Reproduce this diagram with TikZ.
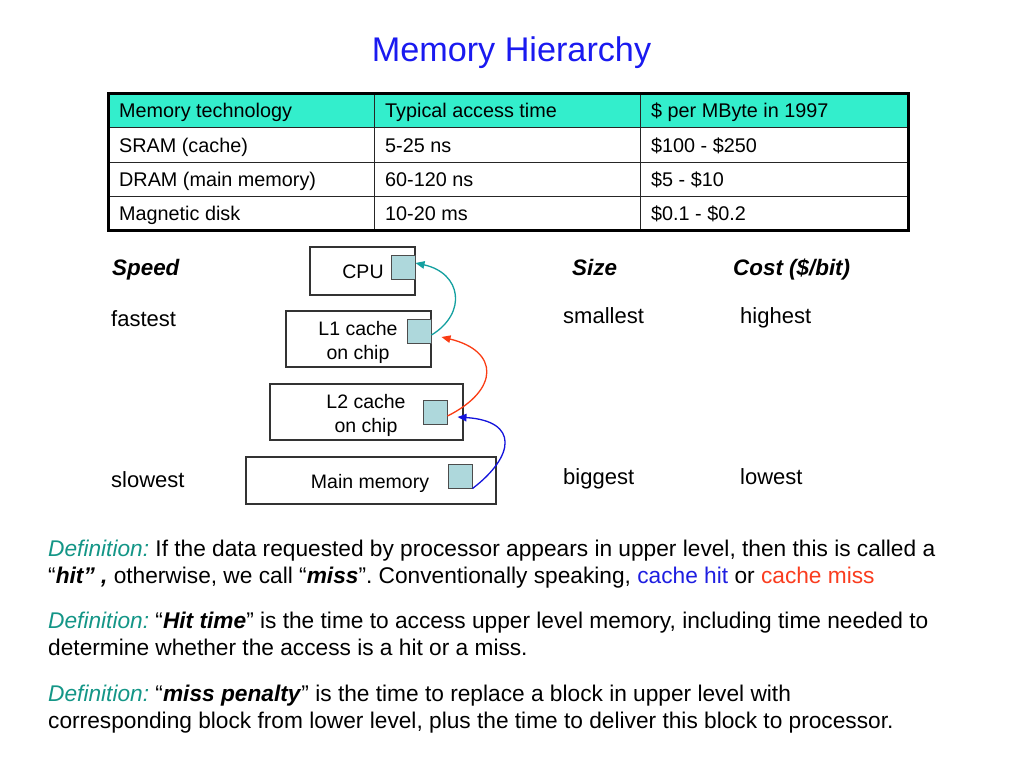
\documentclass[tikz,border=0pt]{standalone}
\usepackage{fontspec}
\setmainfont{Liberation Sans}
\usetikzlibrary{arrows.meta}
\frenchspacing
\definecolor{ttlblue}{RGB}{26,26,240}
\definecolor{hdrfill}{RGB}{51,238,204}
\definecolor{sqfill}{RGB}{174,216,220}
\definecolor{defteal}{RGB}{20,150,135}
\definecolor{arrteal}{RGB}{20,160,160}
\definecolor{arrred}{RGB}{250,60,20}
\definecolor{arrblue}{RGB}{20,20,220}
\definecolor{hitblue}{RGB}{30,30,225}
\definecolor{missred}{RGB}{250,60,30}
\begin{document}
\begin{tikzpicture}[x=1pt,y=-1pt,
  tabtxt/.style={inner sep=0pt, anchor=base west, font=\fontsize{19.8}{24}\selectfont},
  lbl/.style={inner sep=0pt, anchor=base west, font=\fontsize{22}{26}\selectfont},
  hlbl/.style={inner sep=0pt, anchor=base west, font=\fontsize{22.4}{26}\selectfont\bfseries\itshape},
  boxtxt/.style={inner sep=0pt, anchor=base, font=\fontsize{19.5}{24}\selectfont},
  deftxt/.style={inner sep=0pt, anchor=base west, font=\fontsize{22.7}{26}\selectfont},
  membox/.style={draw=black!80, line width=1.1pt, fill=white, inner sep=0pt},
  sqbox/.style={draw=black!70, line width=1pt, fill=sqfill, minimum width=24pt, minimum height=24pt, inner sep=0pt},
  conn/.style={line width=1.3pt, -{Triangle[length=9pt,width=7.5pt]}},
  thinrule/.style={line width=1pt, draw=black!85},
]
\useasboundingbox (0,0) rectangle (1024,768);
\fill[white] (0,0) rectangle (1024,768);

% Title
\node[inner sep=0pt, anchor=base, font=\fontsize{34.2}{38}\selectfont, text=ttlblue] (title) at (511.5,62) {Memory Hierarchy};

% Table
\fill[hdrfill] (108,93) rectangle (908,127);
\draw[thinrule] (108,127) -- (908,127);
\draw[thinrule] (108,162) -- (908,162);
\draw[thinrule] (108,196) -- (908,196);
\draw[thinrule] (374,93) -- (374,230);
\draw[thinrule] (640,93) -- (640,230);
\draw[line width=3pt, black] (108,93) rectangle (908,230);

\node[tabtxt] (h1) at (119,117) {Memory technology};
\node[tabtxt] (h2) at (385,117) {Typical access time};
\node[tabtxt] (h3) at (651,117) {\$ per MByte in 1997};
\node[tabtxt] (r11) at (119,152) {SRAM (cache)};
\node[tabtxt] (r12) at (385,152) {5-25 ns};
\node[tabtxt] (r13) at (651,152) {\$100 - \$250};
\node[tabtxt] (r21) at (119,186) {DRAM (main memory)};
\node[tabtxt] (r22) at (385,186) {60-120 ns};
\node[tabtxt] (r23) at (651,186) {\$5 - \$10};
\node[tabtxt] (r31) at (119,220) {Magnetic disk};
\node[tabtxt] (r32) at (385,220) {10-20 ms};
\node[tabtxt] (r33) at (651,220) {\$0.1 - \$0.2};

% Column headings
\node[hlbl] (speed) at (112,275) {Speed};
\node[hlbl] (size) at (572,275) {Size};
\node[hlbl] (cost) at (733,275) {Cost (\$/bit)};
\node[lbl] (fastest) at (111,326) {fastest};
\node[lbl] (smallest) at (563,323) {smallest};
\node[lbl] (highest) at (740,323) {highest};
\node[lbl] (slowest) at (111,487) {slowest};
\node[lbl] (biggest) at (563,484) {biggest};
\node[lbl] (lowest) at (740,484) {lowest};

% Memory boxes
\node[membox, minimum width=105pt, minimum height=48pt] (cpu) at (362.5,271) {};
\node[membox, minimum width=145pt, minimum height=56pt] (l1) at (358.5,339) {};
\node[membox, minimum width=193pt, minimum height=56pt] (l2) at (366.5,412) {};
\node[membox, minimum width=250pt, minimum height=47pt] (mm) at (371,480.5) {};

\node[boxtxt] (cputxt) at (363,278) {CPU};
\node[boxtxt] (l1txta) at (358,335) {L1 cache};
\node[boxtxt] (l1txtb) at (358,359) {on chip};
\node[boxtxt] (l2txta) at (366,408) {L2 cache};
\node[boxtxt] (l2txtb) at (366,432) {on chip};
\node[boxtxt] (mmtxt) at (370,488) {Main memory};

\node[sqbox] (cpusq) at (403,267) {};
\node[sqbox] (l1sq) at (419,331) {};
\node[sqbox] (l2sq) at (435,412) {};
\node[sqbox] (mmsq) at (460,476) {};

\coordinate (redend) at ([xshift=10pt,yshift=-6pt]l1sq.east);
\coordinate (blueend) at ([xshift=10pt,yshift=-5pt]l2sq.east);

\draw[conn, arrteal] ([yshift=-4pt]l1sq.east) .. controls +(36,-22) and +(46,10) .. ([yshift=4pt]cpusq.east);
\draw[conn, arrred] ([yshift=-4pt]l2sq.east) .. controls +(52,-26) and +(58,14) .. (redend);
\draw[conn, arrblue] (mmsq.south east) .. controls +(42,-32) and +(62,4) .. (blueend);

% Definitions
\node[deftxt] (d1a) at (48,556) {\textcolor{defteal}{\itshape Definition:} If the data requested by processor appears in upper level, then this is called a};
\node[deftxt] (d1b) at (48,583) {“\textbf{\textit{hit” ,}} otherwise, we call “\textbf{\textit{miss}}”. Conventionally speaking, \textcolor{hitblue}{cache hit} or \textcolor{missred}{cache miss}};
\node[deftxt] (d2a) at (48,628) {\textcolor{defteal}{\itshape Definition:} “\textbf{\textit{Hit time}}” is the time to access upper level memory, including time needed to};
\node[deftxt] (d2b) at (48,655) {determine whether the access is a hit or a miss.};
\node[deftxt] (d3a) at (48,701) {\textcolor{defteal}{\itshape Definition:} “\textbf{\textit{miss penalty}}” is the time to replace a block in upper level with};
\node[deftxt] (d3b) at (48,728) {corresponding block from lower level, plus the time to deliver this block to processor.};
\end{tikzpicture}
\end{document}
